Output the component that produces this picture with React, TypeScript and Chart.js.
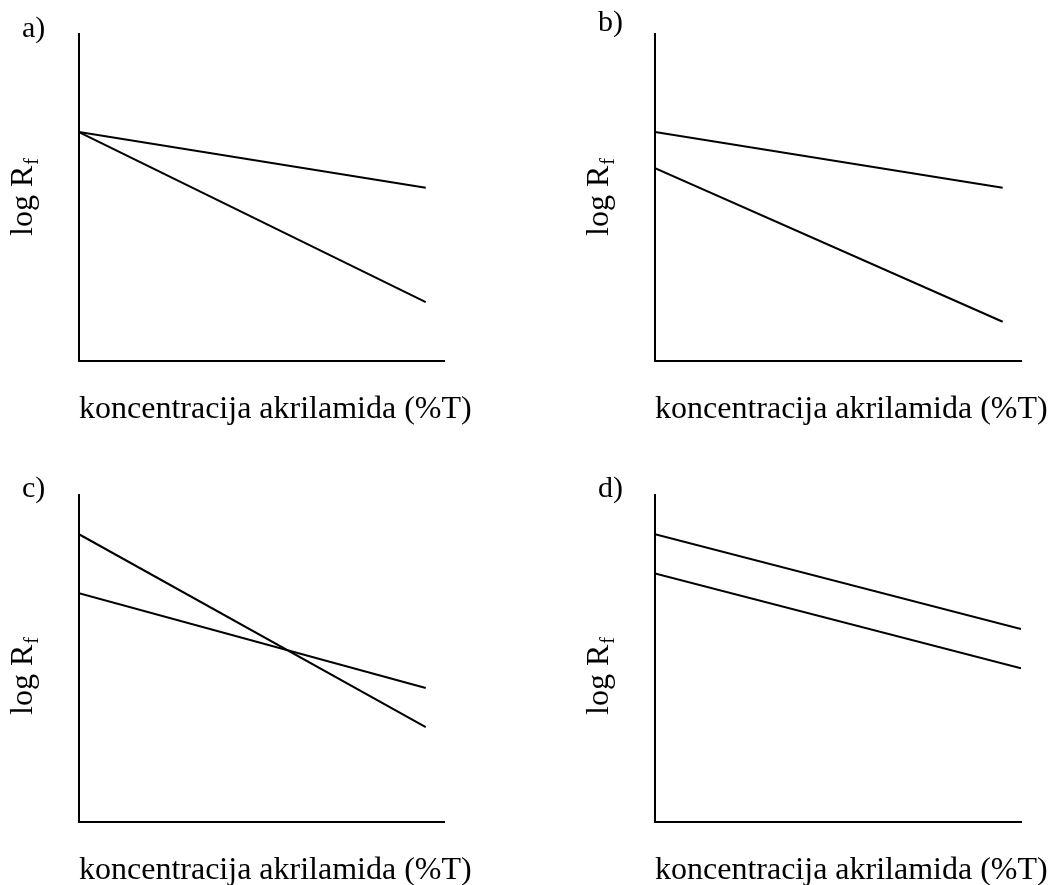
import React, { useEffect, useRef } from "react";
import { Chart, registerables } from "chart.js";

Chart.register(...registerables);

// ---- Data (axes run 0..10 in arbitrary units) ----
const panelLabels = ["a)", "b)", "c)", "d)"];
const xTitle = "koncentracija akrilamida (%T)";
const yTitleMain = "log R";
const yTitleSub = "f";

const xPoints_a = [0, 9.5];
const a_upper = [7.0, 5.3];
const a_lower = [7.0, 1.8];

const xPoints_b = [0, 9.5];
const b_upper = [7.0, 5.3];
const b_lower = [5.9, 1.2];

const xPoints_c = [0, 9.5];
const c_steep = [8.8, 2.9];
const c_shallow = [7.0, 4.1];

const xPoints_d = [0, 10];
const d_upper = [8.8, 5.9];
const d_lower = [7.6, 4.7];

const AXIS_MIN = 0;
const AXIS_MAX = 10;

// ---- Layout ----
type PanelCfg = {
  label: string;
  left: number;
  top: number;
  width: number;
  height: number;
  pad: { left: number; top: number; right: number; bottom: number };
  labelDy: number;
  yTitleDy: number;
  xs: number[];
  series: number[][];
};

const PANELS: PanelCfg[] = [
  {
    label: panelLabels[0], left: 0, top: 0, width: 520, height: 440,
    pad: { left: 79, top: 34, right: 76, bottom: 79 },
    labelDy: 3, yTitleDy: 0, xs: xPoints_a, series: [a_upper, a_lower],
  },
  {
    label: panelLabels[1], left: 520, top: 0, width: 529, height: 440,
    pad: { left: 135, top: 34, right: 28, bottom: 79 },
    labelDy: -3, yTitleDy: 0, xs: xPoints_b, series: [b_upper, b_lower],
  },
  {
    label: panelLabels[2], left: 0, top: 440, width: 520, height: 445,
    pad: { left: 79, top: 55, right: 76, bottom: 63 },
    labelDy: 2, yTitleDy: 18, xs: xPoints_c, series: [c_steep, c_shallow],
  },
  {
    label: panelLabels[3], left: 520, top: 440, width: 529, height: 445,
    pad: { left: 135, top: 55, right: 28, bottom: 63 },
    labelDy: 2, yTitleDy: 18, xs: xPoints_d, series: [d_upper, d_lower],
  },
];

const FONT = '"Liberation Serif", "Times New Roman", serif';

function makeTextPlugin(cfg: PanelCfg) {
  return {
    id: "panelText",
    afterDraw(chart: any) {
      const ctx: CanvasRenderingContext2D = chart.ctx;
      const ca = chart.chartArea;
      ctx.save();
      ctx.fillStyle = "#000";
      ctx.textBaseline = "alphabetic";
      ctx.textAlign = "left";

      // panel label
      ctx.font = `30px ${FONT}`;
      ctx.fillText(cfg.label, ca.left - 57, ca.top + cfg.labelDy);

      // x title
      ctx.font = `32px ${FONT}`;
      ctx.fillText(xTitle, ca.left, ca.bottom + 57);

      // y title with subscript
      ctx.translate(ca.left - 47, (ca.top + ca.bottom) / 2 + cfg.yTitleDy);
      ctx.rotate(-Math.PI / 2);
      ctx.font = `32px ${FONT}`;
      const wMain = ctx.measureText(yTitleMain).width;
      ctx.font = `20px ${FONT}`;
      const wSub = ctx.measureText(yTitleSub).width;
      const start = -(wMain + wSub) / 2;
      ctx.font = `32px ${FONT}`;
      ctx.fillText(yTitleMain, start, 0);
      ctx.font = `20px ${FONT}`;
      ctx.fillText(yTitleSub, start + wMain + 1, 6);
      ctx.restore();
    },
  };
}

function axisOpts() {
  return {
    type: "linear" as const,
    min: AXIS_MIN,
    max: AXIS_MAX,
    display: true,
    grid: { display: false, drawTicks: false },
    ticks: { display: false },
    title: { display: false },
    border: { display: true, color: "#000", width: 2 },
  };
}

function Panel({ cfg }: { cfg: PanelCfg }) {
  const ref = useRef<HTMLCanvasElement | null>(null);
  useEffect(() => {
    if (!ref.current) return;
    const chart = new Chart(ref.current, {
      type: "line",
      data: {
        datasets: cfg.series.map((ys) => ({
          data: cfg.xs.map((x, i) => ({ x, y: ys[i] })),
          borderColor: "#000",
          borderWidth: 2,
          pointRadius: 0,
          fill: false,
          tension: 0,
        })),
      },
      options: {
        animation: false,
        responsive: false,
        maintainAspectRatio: false,
        devicePixelRatio: 1,
        layout: { padding: cfg.pad },
        plugins: {
          legend: { display: false },
          tooltip: { enabled: false },
          title: { display: false },
        },
        events: [],
        scales: { x: axisOpts(), y: axisOpts() },
      },
      plugins: [makeTextPlugin(cfg)],
    } as any);
    return () => chart.destroy();
  }, [cfg]);
  return (
    <canvas
      ref={ref}
      width={cfg.width}
      height={cfg.height}
      style={{
        position: "absolute",
        left: cfg.left,
        top: cfg.top,
        width: cfg.width,
        height: cfg.height,
      }}
    />
  );
}

export default function App() {
  return (
    <div
      style={{
        position: "absolute",
        left: 0,
        top: 0,
        width: 1049,
        height: 885,
        background: "#fff",
        overflow: "hidden",
      }}
    >
      {PANELS.map((p) => (
        <Panel key={p.label} cfg={p} />
      ))}
    </div>
  );
}
